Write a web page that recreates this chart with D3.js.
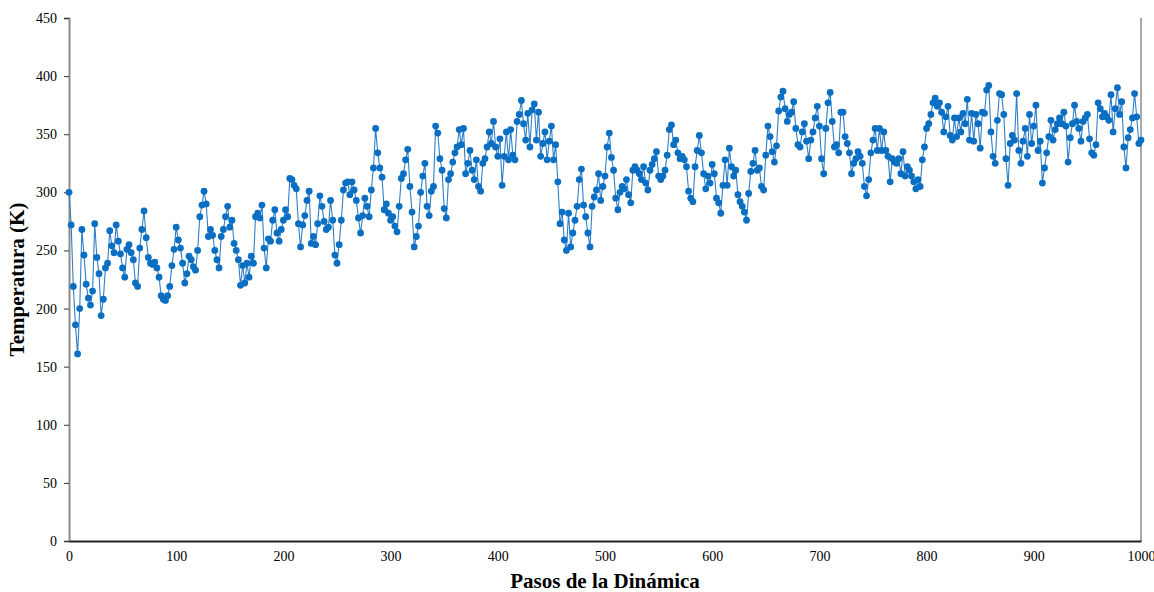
<!DOCTYPE html>
<html>
<head>
<meta charset="utf-8">
<script src="https://cdn.jsdelivr.net/npm/d3@7"></script>
<style>
    body { margin: 0; background: #fff; }
    .tick text { font-family: "Liberation Serif", "Times New Roman", serif; font-size: 14px; fill: #000; }
    .axis-title { font-family: "Liberation Serif", "Times New Roman", serif; font-size: 21px; font-weight: bold; fill: #000; }
</style>
</head>
<body>
<div id="chart"></div>
<script>
// Temperature, one value every 2 steps (0..1000).
const temps0 = [300, 272, 219, 186, 161, 200, 268, 246, 221, 209, 203, 215, 273, 244, 230, 194, 208, 235, 239, 267, 254, 248, 272, 258, 247, 235, 227, 251, 255, 248, 242, 222, 219, 252, 268, 284, 261, 244, 239, 238, 240, 235, 227, 211, 208, 207, 211, 219, 237, 251];
const temps1 = [270, 259, 252, 239, 222, 230, 245, 242, 236, 233, 250, 279, 289, 301, 290, 262, 268, 263, 250, 242, 235, 262, 268, 279, 288, 270, 276, 256, 250, 242, 220, 237, 222, 239, 227, 245, 239, 279, 282, 278, 289, 252, 235, 260, 258, 276, 285, 265, 258, 268];
const temps2 = [276, 285, 279, 312, 311, 306, 303, 273, 253, 272, 280, 293, 301, 256, 262, 255, 273, 297, 288, 275, 268, 270, 293, 276, 246, 239, 255, 276, 302, 308, 309, 298, 309, 302, 293, 278, 265, 280, 295, 288, 279, 302, 321, 355, 334, 321, 313, 285, 290, 282];
const temps3 = [276, 279, 271, 266, 288, 312, 316, 328, 337, 305, 283, 253, 262, 271, 300, 314, 325, 288, 280, 301, 305, 357, 351, 329, 319, 286, 278, 311, 316, 326, 334, 339, 354, 341, 355, 316, 325, 336, 319, 311, 328, 305, 301, 325, 329, 339, 352, 342, 361, 339];
const temps4 = [331, 346, 306, 331, 352, 328, 354, 332, 328, 361, 367, 379, 359, 345, 368, 339, 371, 376, 345, 369, 331, 342, 352, 328, 344, 357, 328, 341, 309, 273, 283, 259, 250, 282, 253, 265, 276, 288, 311, 320, 289, 279, 265, 253, 288, 296, 302, 316, 293, 305];
const temps5 = [314, 339, 351, 330, 319, 295, 285, 300, 305, 303, 311, 298, 291, 319, 322, 319, 316, 311, 322, 308, 302, 319, 324, 329, 335, 314, 311, 314, 319, 332, 354, 358, 341, 345, 334, 329, 331, 328, 322, 301, 295, 292, 322, 336, 349, 334, 316, 303, 314, 308];
const temps6 = [324, 316, 295, 291, 282, 306, 328, 306, 338, 322, 314, 319, 298, 292, 288, 283, 276, 299, 318, 325, 336, 319, 321, 305, 302, 332, 357, 348, 335, 326, 340, 370, 382, 387, 372, 361, 367, 369, 378, 355, 341, 339, 352, 359, 344, 329, 345, 352, 364, 374];
const temps7 = [357, 329, 316, 355, 377, 386, 361, 339, 341, 334, 369, 369, 348, 342, 334, 316, 325, 329, 335, 331, 325, 305, 297, 311, 334, 345, 355, 336, 355, 336, 352, 336, 331, 309, 329, 326, 325, 329, 316, 335, 314, 322, 319, 314, 309, 303, 311, 305, 328, 339];
const temps8 = [355, 359, 367, 377, 381, 374, 377, 369, 352, 365, 374, 349, 345, 364, 348, 364, 352, 368, 359, 380, 345, 368, 344, 367, 359, 338, 369, 368, 388, 392, 352, 331, 325, 362, 385, 384, 367, 329, 306, 342, 349, 345, 385, 336, 325, 344, 355, 331, 367, 342];
const temps9 = [357, 375, 336, 344, 308, 321, 334, 348, 362, 345, 354, 359, 364, 359, 369, 357, 326, 347, 359, 375, 361, 355, 344, 361, 364, 367, 346, 334, 332, 341, 377, 372, 365, 368, 365, 362, 384, 352, 372, 390, 367, 378, 339, 321, 347, 354, 364, 385, 365, 342, 345];

const yTicks = [0, 50, 100, 150, 200, 250, 300, 350, 400, 450];
const xTicks = [0, 100, 200, 300, 400, 500, 600, 700, 800, 900, 1000];

const temperatura = [].concat(temps0, temps1, temps2, temps3, temps4, temps5, temps6, temps7, temps8, temps9);
const data = temperatura.map((t, i) => ({ paso: i * 2, temp: t }));

const width = 1154;
const height = 592;
const margin = { top: 18, right: 13, bottom: 51, left: 69 };

const x = d3.scaleLinear()
    .domain([0, 1000])
    .range([margin.left, width - margin.right]);

const y = d3.scaleLinear()
    .domain([0, 450])
    .range([height - margin.bottom, margin.top]);

const svg = d3.select("#chart")
    .append("svg")
    .attr("width", width)
    .attr("height", height);

// right border of the plot area
svg.append("line")
    .attr("x1", x(1000)).attr("x2", x(1000))
    .attr("y1", y(450)).attr("y2", y(0))
    .attr("stroke", "#8c8c8c")
    .attr("stroke-width", 1.5);

const yAxis = svg.append("g")
    .attr("transform", `translate(${margin.left},0)`)
    .call(d3.axisLeft(y).tickValues(yTicks).tickSize(5).tickPadding(7));
yAxis.select(".domain").attr("stroke", "#8c8c8c").attr("stroke-width", 2);
yAxis.selectAll(".tick line").attr("stroke", "#333");

const xAxis = svg.append("g")
    .attr("transform", `translate(0,${y(0)})`)
    .call(d3.axisBottom(x).tickValues(xTicks).tickFormat(d => String(d)).tickSize(0).tickPadding(10));
xAxis.select(".domain").attr("stroke", "#222").attr("stroke-width", 2);

const line = d3.line()
    .x(d => x(d.paso))
    .y(d => y(d.temp));

svg.append("path")
    .datum(data)
    .attr("fill", "none")
    .attr("stroke", "#2e7fc8")
    .attr("stroke-width", 1.1)
    .attr("d", line);

svg.append("g")
    .selectAll("circle")
    .data(data)
    .join("circle")
    .attr("cx", d => x(d.paso))
    .attr("cy", d => y(d.temp))
    .attr("r", 3.4)
    .attr("fill", "#0a6fc2");

svg.append("text")
    .attr("class", "axis-title")
    .attr("text-anchor", "middle")
    .attr("x", 605)
    .attr("y", height - 4)
    .text("Pasos de la Dinámica");

svg.append("text")
    .attr("class", "axis-title")
    .attr("text-anchor", "middle")
    .attr("transform", `translate(24,${(margin.top + height - margin.bottom) / 2}) rotate(-90)`)
    .text("Temperatura (K)");
</script>
</body>
</html>
